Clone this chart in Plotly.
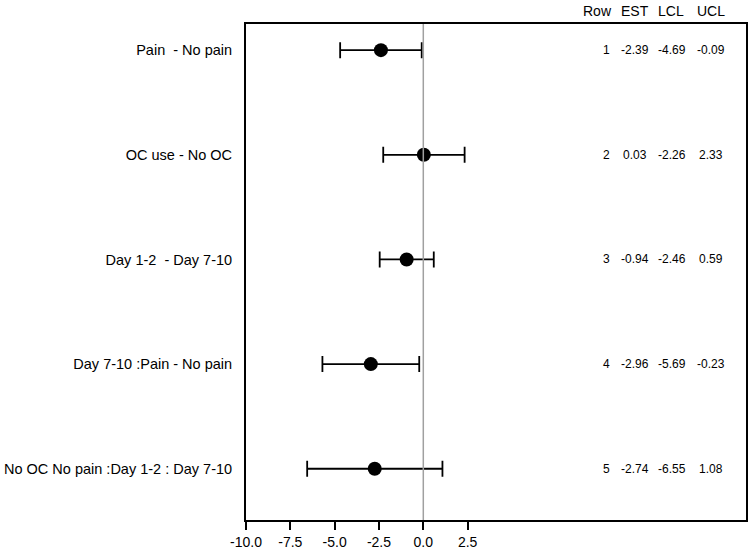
import plotly.graph_objects as go

# forest plot data
labels = ["Pain  - No pain", "OC use - No OC", "Day 1-2  - Day 7-10",
          "Day 7-10 :Pain - No pain", "No OC No pain :Day 1-2 : Day 7-10"]
rows = [1, 2, 3, 4, 5]
est = [-2.39, 0.03, -0.94, -2.96, -2.74]
lcl = [-4.69, -2.26, -2.46, -5.69, -6.55]
ucl = [-0.09, 2.33, 0.59, -0.23, 1.08]
xticks = [-10.0, -7.5, -5.0, -2.5, 0.0, 2.5]

fnt = "Liberation Sans, Arial, sans-serif"

fig = go.Figure()
fig.add_vline(x=0, line_color="#a0a0a0", line_width=1.5)
fig.add_trace(go.Scatter(
    x=est, y=rows, mode="markers",
    marker=dict(color="black", size=14),
    error_x=dict(type="data", symmetric=False,
                 array=[u - e for u, e in zip(ucl, est)],
                 arrayminus=[e - l for e, l in zip(est, lcl)],
                 color="black", thickness=1.8, width=8),
    showlegend=False,
))

# table columns on the right (header x, value x)
cols = [("Row", rows, 0.702, 0.72, "%d"), ("EST", est, 0.778, 0.778, "%.2f"),
        ("LCL", lcl, 0.85, 0.852, "%.2f"), ("UCL", ucl, 0.93, 0.93, "%.2f")]
for name, vals, hx, vx, fmt in cols:
    fig.add_annotation(text=name, xref="paper", yref="paper", x=hx, y=1.027,
                       xanchor="center", yanchor="middle", showarrow=False,
                       font=dict(size=14, color="black", family=fnt))
    for r, v in zip(rows, vals):
        fig.add_annotation(text=fmt % v, xref="paper", yref="y", x=vx, y=r,
                           xanchor="center", yanchor="middle", showarrow=False,
                           font=dict(size=12, color="black", family=fnt))

fig.update_xaxes(range=[-10, 18.2], tickvals=xticks, ticktext=["%.1f" % t for t in xticks],
                 ticks="outside", ticklen=8, tickwidth=1.5, tickcolor="black",
                 showline=True, mirror=True, linecolor="black", linewidth=2,
                 showgrid=False, zeroline=False, tickfont=dict(size=14))
fig.update_yaxes(range=[5.49, 0.75], tickvals=rows, ticktext=labels, ticks="",
                 showline=True, mirror=True, linecolor="black", linewidth=2,
                 showgrid=False, zeroline=False, tickfont=dict(size=14.5), ticklabelstandoff=9)
fig.update_layout(width=750, height=550, plot_bgcolor="white", paper_bgcolor="white",
                  margin=dict(l=246, r=4, t=24, b=30, autoexpand=False),
                  font=dict(family=fnt, color="black"))
# page body has an 8px default margin; drop it so the figure sits at 0,0
fig.write_html("out.html", config={"displayModeBar": False},
               post_script="document.body.style.margin='0';")
